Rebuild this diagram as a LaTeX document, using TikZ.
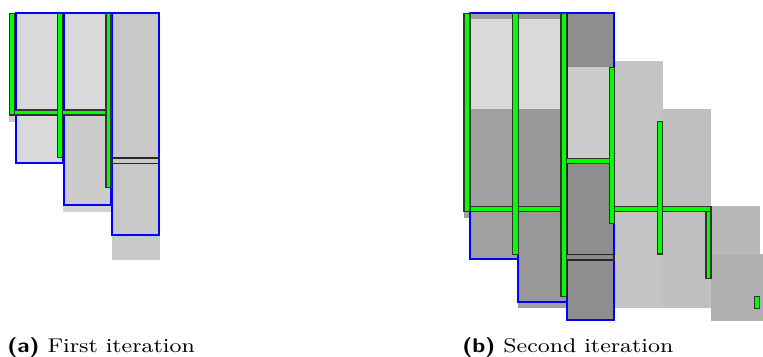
\documentclass[tikz,border=0pt]{standalone}
\usepackage{graphicx}
\definecolor{lt}{HTML}{D9D9D9}
\definecolor{ltb}{HTML}{CCCCCC}
\definecolor{ltc}{HTML}{C8C8C8}
\definecolor{shd}{HTML}{D2D2D2}
\definecolor{dka}{HTML}{A0A0A0}
\definecolor{dkb}{HTML}{999999}
\definecolor{dkc}{HTML}{8E8E8E}
\definecolor{gra}{HTML}{C4C4C4}
\definecolor{grb}{HTML}{BFBFBF}
\definecolor{grc}{HTML}{B8B8B8}
\definecolor{grd}{HTML}{B0B0B0}
\definecolor{bargreen}{HTML}{00FF00}
\tikzset{
  blueframe/.style={draw=blue, line width=0.75pt},
  gbar/.style={fill=bargreen, draw=black!80, line width=0.45pt},
  thinbox/.style={draw=black!85, line width=0.5pt},
  captext/.style={anchor=base west, inner sep=0pt, font=\fontsize{8.5}{10}\selectfont},
}
\begin{document}
\begin{tikzpicture}[x=0.428pt, y=-0.428pt]
\useasboundingbox (0,0) rectangle (763,356);

% ---------------- panel (a) ----------------
% shadows
\fill[ltb] (9.3,115) rectangle (15.7,121.7);
\fill[shd] (63.3,205) rectangle (111.7,211.7);
\fill[ltc] (111.7,235) rectangle (160,260);
% columns
\fill[lt] (15.7,13.3) rectangle (62.7,162.7);
\fill[lt] (64,13.3) rectangle (110.7,112);
\fill[ltb] (64,112) rectangle (110.7,205);
\fill[ltc] (112,13.3) rectangle (159,235);
\draw[blueframe] (15.7,13.3) rectangle (62.7,162.7);
\draw[blueframe] (64,13.3) rectangle (110.7,205);
\draw[blueframe] (112,13.3) rectangle (159,235);
\draw[thinbox] (112,158) rectangle (159.3,163.3);
% bars
\draw[gbar] (9.3,13.3) rectangle (14.7,115);
\draw[gbar] (14.7,110) rectangle (57.3,115);
\draw[gbar] (62.7,110) rectangle (106,115);
\draw[gbar] (57.3,13.3) rectangle (62.7,157.3);
\draw[gbar] (106,13.3) rectangle (111,187.7);

% ---------------- panel (b) ----------------
% background grey cells
\fill[gra] (614,61) rectangle (663.3,308.3);
\fill[grb] (663.3,109.3) rectangle (711,308.3);
\fill[grc] (711,205.7) rectangle (760,254);
\fill[grd] (711,254) rectangle (763,320.7);
% shadows
\fill[dka] (464,211.7) rectangle (470,218.3);
\fill[dka] (518.3,301.7) rectangle (566.7,308.3);
% columns
\fill[dka] (470,13.3) rectangle (518.3,259.3);
\fill[lt] (470,18.7) rectangle (518.3,109.3);
\fill[dkb] (518.3,13.3) rectangle (566.7,301.7);
\fill[lt] (518.3,18.7) rectangle (566.7,109.3);
\fill[dkc] (566.7,13.3) rectangle (614,320);
\fill[ltb] (566.7,66.7) rectangle (614,158.3);
\draw[blueframe] (470,13.3) rectangle (518.3,259.3);
\draw[blueframe] (518.3,13.3) rectangle (566.7,301.7);
\draw[blueframe] (566.7,13.3) rectangle (614,320);
\draw[thinbox, fill=black!45] (566.7,254.3) rectangle (614,260);
% bars
\draw[gbar] (464,13.3) rectangle (470,211.7);
\draw[gbar] (470.7,206.7) rectangle (512.3,211.7);
\draw[gbar] (518.3,206.7) rectangle (561,211.7);
\draw[gbar] (512.3,13.3) rectangle (518.3,254.3);
\draw[gbar] (561,13.3) rectangle (566.7,296.7);
\draw[gbar] (566.7,158.3) rectangle (609.3,163.3);
\draw[gbar] (609.3,67.3) rectangle (614.7,223.3);
\draw[gbar] (614.7,206.7) rectangle (657.3,211.7);
\draw[gbar] (662.7,206.7) rectangle (711,211.7);
\draw[gbar] (657.3,121.7) rectangle (662.7,254);
\draw[gbar] (706,211.7) rectangle (711,278.3);
\draw[gbar] (754.3,296.7) rectangle (759.3,308.3);

% ---------------- captions ----------------
\node[captext] (capa) at (7,352.5) {\scalebox{1.17}[1]{\textsf{\bfseries (a)} First iteration}};
\node[captext] (capb) at (462,352.5) {\scalebox{1.17}[1]{\textsf{\bfseries (b)} Second iteration}};
\end{tikzpicture}
\end{document}
